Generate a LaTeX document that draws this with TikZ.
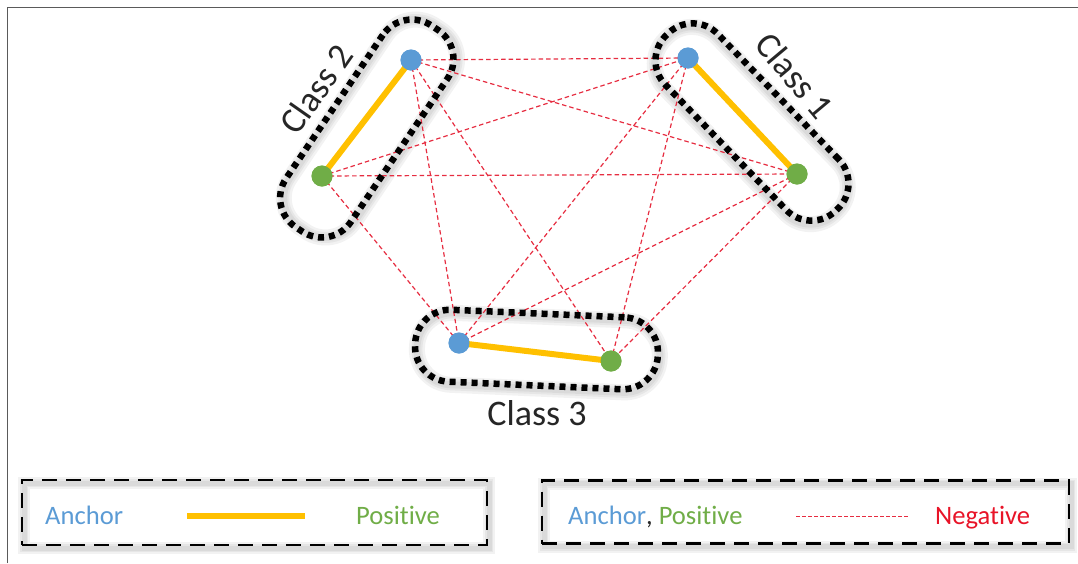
\documentclass[tikz,border=0pt]{standalone}
\usepackage{fontspec}
\setmainfont{Carlito}[Ligatures={NoCommon,NoRare}]
\usetikzlibrary{calc}

\definecolor{anchorblue}{RGB}{91,155,213}
\definecolor{posgreen}{RGB}{112,173,71}
\definecolor{pairgold}{RGB}{255,192,0}
\definecolor{negred}{RGB}{230,45,65}
\definecolor{negtext}{RGB}{232,20,40}
\definecolor{labelgray}{RGB}{38,38,38}
\definecolor{framegray}{RGB}{90,90,90}

\begin{document}
\begin{tikzpicture}[x=1pt,y=-1pt,
  anchorpt/.style={circle, fill=anchorblue, minimum size=21pt, inner sep=0pt},
  pospt/.style={circle, fill=posgreen, minimum size=21pt, inner sep=0pt},
  pairline/.style={pairgold, line width=6pt},
  negline/.style={negred, line width=1.2pt, dash pattern=on 4.5pt off 3pt},
  classbox/.style={draw=black, line width=6.5pt, dash pattern=on 6pt off 5pt,
                   rounded corners=35pt, inner sep=0pt},
  softhaze/.style={draw=black, draw opacity=0.05, line width=#1, solid, inner sep=0pt},
  classlabel/.style={text=labelgray, font=\fontsize{36}{40}\selectfont, inner sep=0pt},
  legendbox/.style={draw=black, line width=2.5pt, dash pattern=on 15pt off 9pt, inner sep=0pt},
  legendtext/.style={font=\fontsize{26.6}{30}\selectfont, inner sep=0pt, anchor=base west},
]
\useasboundingbox (0,0) rectangle (1078,563);

% page frame (open on the right and bottom)
\draw[framegray, line width=1.5pt] (7.5,563) -- (7.5,7.5) -- (1078,7.5);

% soft shadows under the class outlines
\foreach \cx/\cy/\w/\h/\r in {366.8/128.5/243/78/56, 752/122/244/73/-46, 536.5/349.5/243/72/-2.5}
  \foreach \lw in {16,11,7}
    \node[softhaze=\lw pt, rounded corners=35pt, minimum width=\w pt, minimum height=\h pt,
          rotate=\r, xshift=2pt, yshift=-3pt] at (\cx,\cy) {};

% soft shadows under the legend frames
\foreach \cx/\cy/\w/\h in {254.5/512.5/465/65, 805.5/512/527/63}
  \foreach \lw in {12,8,5}
    \node[softhaze=\lw pt, minimum width=\w pt, minimum height=\h pt,
          xshift=2pt, yshift=-3pt] at (\cx,\cy) {};

% samples
\node[anchorpt] (a2) at (411,60) {};
\node[pospt]    (p2) at (322,176) {};
\node[anchorpt] (a1) at (688,58) {};
\node[pospt]    (p1) at (797,174) {};
\node[anchorpt] (a3) at (459,343) {};
\node[pospt]    (p3) at (611,361) {};

% negative pairs between classes
\foreach \u/\v in {a2/a1, a2/p1, a2/a3, a2/p3,
                   p2/a1, p2/p1, p2/a3,
                   a1/a3, a1/p3, p1/a3, p1/p3}
  \draw[negline] (\u.center) -- (\v.center);

% positive pairs within a class
\draw[pairline] (a2.center) -- (p2.center);
\draw[pairline] (a1.center) -- (p1.center);
\draw[pairline] (a3.center) -- (p3.center);

% redraw the points above the pair lines
\foreach \n/\s in {a2/anchorpt, p2/pospt, a1/anchorpt, p1/pospt, a3/anchorpt, p3/pospt}
  \node[\s] at (\n) {};

% class outlines
\node[classbox, minimum width=243pt, minimum height=78pt, rotate=56]  (box2) at (366.8,128.5) {};
\node[classbox, minimum width=244pt, minimum height=73pt, rotate=-46] (box1) at (752,122) {};
\node[classbox, minimum width=243pt, minimum height=72pt, rotate=-2.5] (box3) at (536.5,349.5) {};

% class names
\node[classlabel, rotate=55]  (l2) at (316,89) {Class 2};
\node[classlabel, rotate=-50] (l1) at (795,76) {Class 1};
\node[classlabel]             (l3) at (537,413) {Class 3};

% legend: positive pair
\node[legendbox, minimum width=465pt, minimum height=65pt] (leg1) at (254.5,512.5) {};
\node[legendtext, text=anchorblue] (t1) at (45,524) {Anchor};
\coordinate (g1) at (187,516);
\coordinate (g2) at (305,516);
\draw[pairline] (g1) -- (g2);
\node[legendtext, text=posgreen] (t2) at (356,524) {Positive};

% legend: negative pair
\node[legendbox, minimum width=527pt, minimum height=63pt] (leg2) at (805.5,512) {};
\node[legendtext, text=labelgray] (t3) at (568,524) {\textcolor{anchorblue}{Anchor},\ \textcolor{posgreen}{Positive}};
\coordinate (r1) at (796,516);
\coordinate (r2) at (909,516);
\draw[negline, line width=1pt, dash pattern=on 3.5pt off 2.5pt] (r1) -- (r2);
\node[legendtext, text=negtext] (t4) at (935,524) {Negative};
\end{tikzpicture}
\end{document}
